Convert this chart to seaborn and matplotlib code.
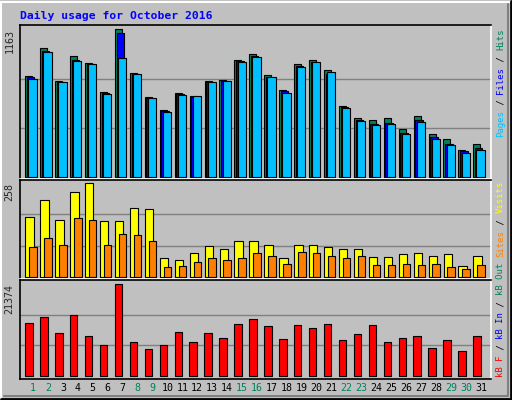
import numpy as np
import pandas as pd
import matplotlib
matplotlib.use("Agg")
import matplotlib.pyplot as plt
import seaborn as sns
from matplotlib.patches import Rectangle

days = list(range(1, 32))
hits = [795,1013,755,952,897,668,1163,818,629,526,660,642,755,763,921,968,800,684,889,921,842,558,468,447,463,382,484,337,297,216,258]
files = [784,995,750,921,889,663,1137,810,626,521,653,634,750,758,913,955,789,674,874,908,810,550,447,416,429,347,453,316,258,203,229]
pages = [776,987,745,916,887,658,934,808,626,516,650,639,745,758,908,947,789,666,863,903,829,545,442,413,421,342,437,303,255,192,216]
visits = [164,211,156,233,256,153,153,189,186,51,48,65,84,78,98,98,87,53,87,89,81,76,78,56,56,62,65,59,62,31,59]
sites = [81,106,89,161,156,87,117,114,98,29,31,42,51,48,53,67,59,37,70,67,59,53,59,34,34,37,34,37,29,23,34]
kbytes = [12247,13651,9907,14119,9205,7099,21374,7801,6163,7099,10141,7801,9907,8737,12013,13183,11545,8503,11779,11077,12013,8269,9673,11779,7801,8737,9205,6397,8269,5695,9205]
weekend = [1,2,8,9,15,16,22,23,29,30]

sns.set_style("white")
plt.rcParams['font.family'] = ['DejaVu Sans Mono', 'DejaVu Sans']
BG = "#c0c0c0"
fig = plt.figure(figsize=(5.12, 4.0), dpi=100, facecolor=BG)
W, H = 512, 400

def axes_px(x0, y0, x1, y1):
    return fig.add_axes([x0 / W, 1 - y1 / H, (x1 - x0) / W, (y1 - y0) / H])

d = np.array(days, dtype=float)

def bars(ax, off, vals, width, color):
    df = pd.DataFrame({"x": d + off, "y": vals})
    sns.barplot(data=df, x="x", y="y", native_scale=True, width=width,
                color=color, edgecolor="black", linewidth=0.8,
                saturation=1, ax=ax, errorbar=None)

def style(ax, ylo, yhi, top):
    ax.set_facecolor(BG)
    ax.set_xlim(0.13, 31.65)
    ax.set_ylim(ylo, yhi)
    for v in (top / 3, 2 * top / 3):
        ax.axhline(v, color="#808080", lw=1, zorder=0)
    ax.set_xticks([]); ax.set_yticks([])
    ax.set_xlabel(""); ax.set_ylabel("")
    ax.spines['top'].set_color("black"); ax.spines['left'].set_color("black")
    ax.spines['right'].set_color("white"); ax.spines['bottom'].set_color("white")
    for s in ax.spines.values():
        s.set_linewidth(1.2)
    ax.text(-0.012, top, str(top), transform=ax.get_yaxis_transform(),
            rotation=90, ha="right", va="top", fontsize=7.2)

ax1 = axes_px(20, 24.7, 490.7, 178.5)
bars(ax1, -0.28, hits, 0.47, "#00805c")
bars(ax1, -0.15, files, 0.5, "#0000ff")
bars(ax1, -0.03, pages, 0.55, "#00c0ff")
style(ax1, -10, 1199, 1163)

ax2 = axes_px(20, 180, 490.7, 278.8)
bars(ax2, -0.23, visits, 0.56, "#ffff00")
bars(ax2, 0.0, sites, 0.5, "#ff8000")
style(ax2, -4.4, 265, 258)

ax3 = axes_px(20, 280.3, 490.7, 379)
bars(ax3, -0.27, kbytes, 0.5, "#ff0000")
style(ax3, -772, 22310, 21374)
ax3.spines['bottom'].set_color("black")

for dd in days:
    ax3.text(dd, -0.04, str(dd), transform=ax3.get_xaxis_transform(),
             ha="center", va="top", fontsize=7.2,
             color="#008060" if dd in weekend else "black")

fig.text(20 / W, 1 - 16 / H, "Daily usage for October 2016", color="#0000ff",
         fontsize=8.2, fontweight="bold", ha="left", va="center")

def vlabel(x, ybottom, pieces, cw=5.42):
    y = ybottom
    for txt, col in pieces:
        fig.text(x / W, 1 - y / H, txt, rotation=90, color=col, fontsize=6.5,
                 ha="center", va="bottom")
        y -= len(txt) * cw

vlabel(500.7, 137, [("Pages", "#00c0ff"), (" / ", "black"), ("Files", "#0000ff"),
                    (" / ", "black"), ("Hits", "#00805c")])
vlabel(500.7, 256.7, [("Sites", "#ff8000"), (" / ", "black"), ("Visits", "#ffff00")])
vlabel(500.7, 376.7, [("kB F", "#ff0000"), (" / ", "black"), ("kB In", "#0000ff"),
                      (" / ", "black"), ("kB Out", "#00805c")])

# 3D outer border
fig.patches.append(Rectangle((0.5 / W, 0.5 / H), (W - 2) / W, (H - 2) / H,
                             transform=fig.transFigure, fill=False, ec="white", lw=1.5))
fig.lines.append(plt.Line2D([1 / W, 1 - 1 / W, 1 - 1 / W], [1 / H, 1 / H, 1 - 1 / H],
                            transform=fig.transFigure, color="black", lw=2))
fig.lines.append(plt.Line2D([4 / W, 1 - 4 / W, 1 - 4 / W], [4 / H, 4 / H, 1 - 4 / H],
                            transform=fig.transFigure, color="#808080", lw=1.5))

fig.savefig("out.png", dpi=100, facecolor=BG)
